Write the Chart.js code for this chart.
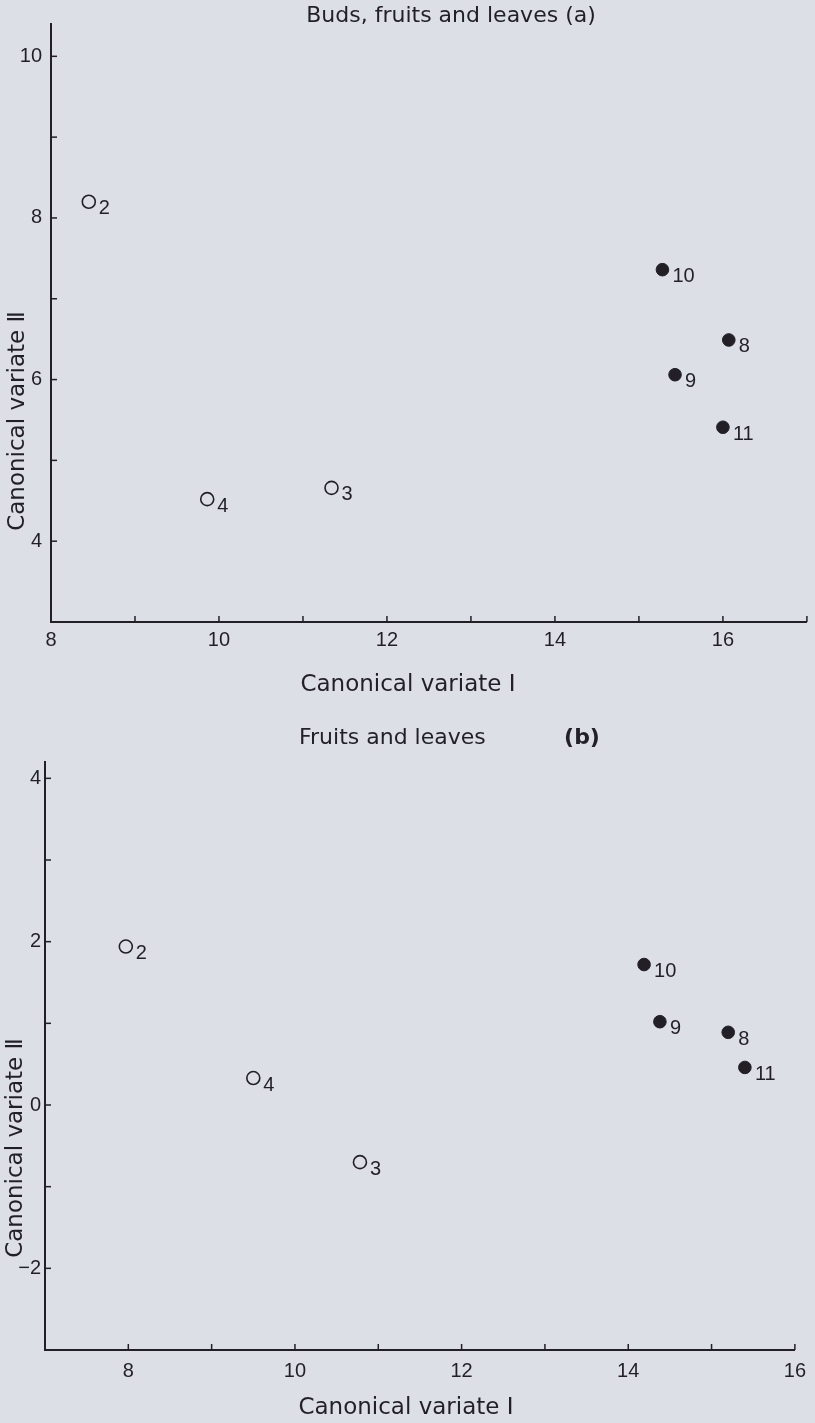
<!DOCTYPE html>
<html>
<head>
<meta charset="utf-8">
<script src="https://cdn.jsdelivr.net/npm/chart.js@4"></script>
<style>
  html, body { margin: 0; padding: 0; background: #dcdfe6; }
  #wrap { position: relative; width: 815px; height: 1423px; }
  .panel { position: absolute; left: 0; width: 815px; }
  #panelA { top: 0; height: 710px; }
  #panelB { top: 710px; height: 713px; }
</style>
</head>
<body>
<div id="wrap">
  <div class="panel" id="panelA"><canvas id="chartA" width="815" height="710"></canvas></div>
  <div class="panel" id="panelB"><canvas id="chartB" width="815" height="713"></canvas></div>
</div>
<script>
// panel (a): buds, fruits and leaves
const aOpenIds = ['2', '4', '3'];
const aOpenX = [8.45, 9.86, 11.34];
const aOpenY = [8.2, 4.52, 4.66];
const aFilledIds = ['10', '8', '9', '11'];
const aFilledX = [15.28, 16.07, 15.43, 16.0];
const aFilledY = [7.36, 6.49, 6.06, 5.41];
const aXRange = [8, 17];
const aYRange = [3, 10.4];
const aXLabels = [8, 10, 12, 14, 16];
const aYLabels = [4, 6, 8, 10];

// panel (b): fruits and leaves
const bOpenIds = ['2', '4', '3'];
const bOpenX = [7.97, 9.5, 10.78];
const bOpenY = [1.94, 0.33, -0.70];
const bFilledIds = ['10', '9', '8', '11'];
const bFilledX = [14.19, 14.38, 15.2, 15.4];
const bFilledY = [1.72, 1.02, 0.89, 0.46];
const bXRange = [7, 16];
const bYRange = [-3, 4.2];
const bXLabels = [8, 10, 12, 14, 16];
const bYLabels = [-2, 0, 2, 4];

const ink = '#221f27';
const tickFont = { family: '"Liberation Sans", Arial, sans-serif', size: 20 };
const titleFont = '22px "DejaVu Sans", sans-serif';
const axisFont = '23px "DejaVu Sans", sans-serif';

function fmt(v) {
  return v < 0 ? '\u2212' + Math.abs(v) : String(v);
}

function toPoints(xs, ys) {
  return xs.map((x, i) => ({ x: x, y: ys[i] }));
}

// short tick marks drawn inwards from both axes
const innerTicks = {
  id: 'innerTicks',
  afterDraw(chart) {
    const { ctx, chartArea } = chart;
    const xs = chart.scales.x, ys = chart.scales.y;
    ctx.save();
    ctx.strokeStyle = ink;
    ctx.lineWidth = 1.5;
    xs.ticks.forEach(t => {
      const px = xs.getPixelForValue(t.value);
      if (px - chartArea.left < 3) return;
      ctx.beginPath();
      ctx.moveTo(px, chartArea.bottom);
      ctx.lineTo(px, chartArea.bottom - 6);
      ctx.stroke();
    });
    ys.ticks.forEach(t => {
      const py = ys.getPixelForValue(t.value);
      if (chartArea.bottom - py < 3) return;
      ctx.beginPath();
      ctx.moveTo(chartArea.left, py);
      ctx.lineTo(chartArea.left + 6, py);
      ctx.stroke();
    });
    ctx.restore();
  }
};

// population numbers beside each point
const pointIds = {
  id: 'pointIds',
  afterDatasetsDraw(chart) {
    const ctx = chart.ctx;
    ctx.save();
    ctx.fillStyle = ink;
    ctx.font = '20px "Liberation Sans", Arial, sans-serif';
    ctx.textAlign = 'left';
    ctx.textBaseline = 'middle';
    chart.data.datasets.forEach((ds, i) => {
      chart.getDatasetMeta(i).data.forEach((el, j) => {
        ctx.fillText(ds.ids[j], el.x + 10, el.y + 7);
      });
    });
    ctx.restore();
  }
};

// titles and axis titles
function textPlugin(items) {
  return {
    id: 'freeText',
    afterDraw(chart) {
      const ctx = chart.ctx;
      items.forEach(it => {
        ctx.save();
        ctx.translate(it.x, it.y);
        ctx.rotate(it.rot || 0);
        ctx.font = it.font;
        ctx.fillStyle = ink;
        ctx.textAlign = it.align || 'center';
        ctx.textBaseline = 'middle';
        ctx.fillText(it.text, 0, 0);
        ctx.restore();
      });
    }
  };
}

function axis(range, labelled, pad, fit, horizontal) {
  return {
    type: 'linear',
    position: horizontal ? 'bottom' : 'left',
    min: range[0],
    max: range[1],
    grid: { display: false, drawTicks: false },
    border: { display: true, color: ink, width: 2 },
    ticks: {
      stepSize: 1,
      includeBounds: false,
      autoSkip: false,
      maxRotation: 0,
      padding: pad,
      color: ink,
      font: tickFont,
      callback: v => labelled.includes(v) ? fmt(v) : ''
    },
    afterFit: s => {
      if (horizontal) s.height = fit; else s.width = fit;
    }
  };
}

function makeChart(id, open, filled, sc, padding, texts) {
  return new Chart(document.getElementById(id), {
    type: 'scatter',
    data: {
      datasets: [
        {
          data: open.data, ids: open.ids,
          pointRadius: 6.5, pointBorderWidth: 1.6,
          borderColor: ink, backgroundColor: 'rgba(0,0,0,0)'
        },
        {
          data: filled.data, ids: filled.ids,
          pointRadius: 6.3, pointBorderWidth: 1,
          borderColor: ink, backgroundColor: ink
        }
      ]
    },
    options: {
      responsive: false,
      animation: false,
      layout: { padding: padding },
      scales: sc,
      plugins: {
        legend: { display: false },
        tooltip: { enabled: false },
        title: { display: false }
      }
    },
    plugins: [innerTicks, pointIds, textPlugin(texts)]
  });
}

makeChart('chartA',
  { data: toPoints(aOpenX, aOpenY), ids: aOpenIds },
  { data: toPoints(aFilledX, aFilledY), ids: aFilledIds },
  {
    x: axis(aXRange, aXLabels, 6, 88, true),
    y: axis(aYRange, aYLabels, 9, 51, false)
  },
  { top: 24, right: 7, bottom: 0, left: 0 },
  [
    { text: 'Buds, fruits and leaves (a)', x: 451, y: 16, font: titleFont },
    { text: 'Canonical variate \u2160', x: 408, y: 685, font: axisFont },
    { text: 'Canonical variate \u2161', x: 18, y: 421, rot: -Math.PI / 2, font: axisFont }
  ]
);

makeChart('chartB',
  { data: toPoints(bOpenX, bOpenY), ids: bOpenIds },
  { data: toPoints(bFilledX, bFilledY), ids: bFilledIds },
  {
    x: axis(bXRange, bXLabels, 9, 73, true),
    y: axis(bYRange, bYLabels, 4, 45, false)
  },
  { top: 52, right: 15, bottom: 0, left: 0 },
  [
    { text: 'Fruits and leaves', x: 299, y: 28, align: 'left', font: titleFont },
    { text: '(b)', x: 582, y: 28, font: 'bold ' + titleFont },
    { text: 'Canonical variate \u2160', x: 406, y: 698, font: axisFont },
    { text: 'Canonical variate \u2161', x: 16, y: 438, rot: -Math.PI / 2, font: axisFont }
  ]
);
</script>
</body>
</html>
